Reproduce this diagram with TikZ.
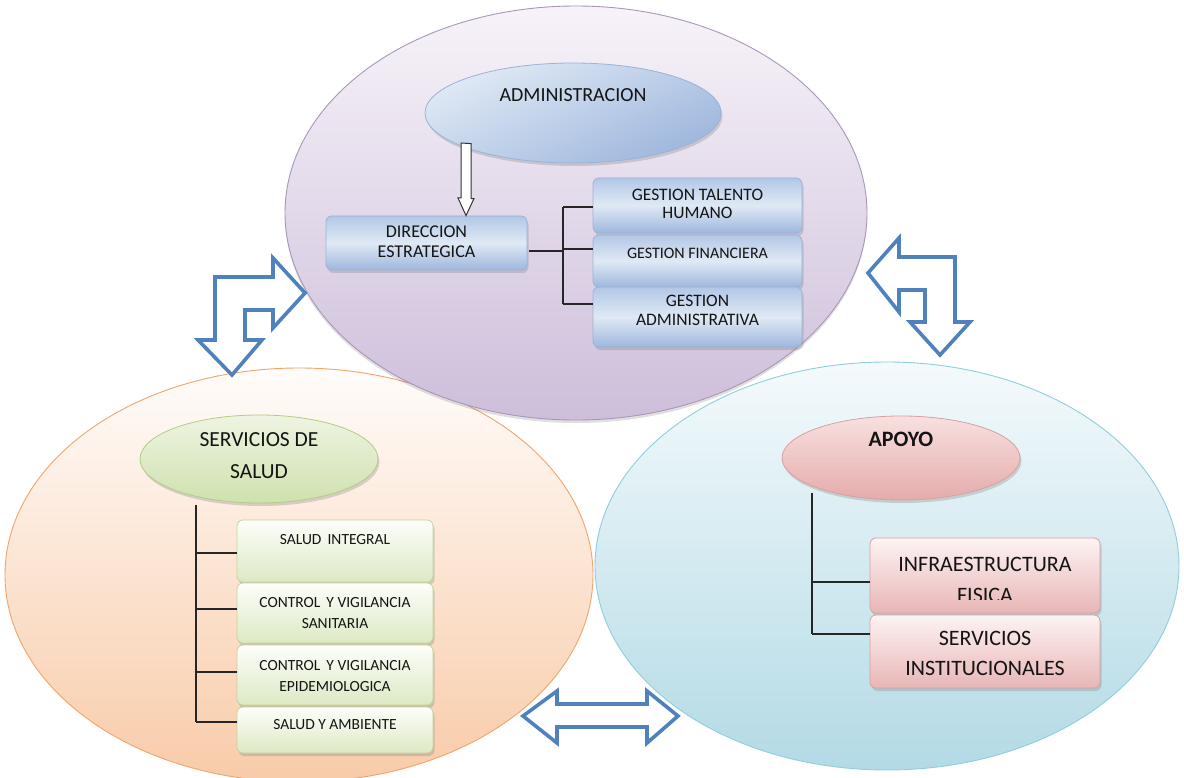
\documentclass[tikz,border=0pt]{standalone}
\usepackage{fontspec}
\setmainfont{Carlito}
\usetikzlibrary{shapes.geometric,shadows}
\definecolor{puTop}{HTML}{F7F3F9}
\definecolor{puBot}{HTML}{CDBEDA}
\definecolor{puLine}{HTML}{A897B8}
\definecolor{orTop}{HTML}{FFFCFA}
\definecolor{orBot}{HTML}{F8CBA8}
\definecolor{orLine}{HTML}{F2A46C}
\definecolor{blTop}{HTML}{F4FAFC}
\definecolor{blBot}{HTML}{B3DAE5}
\definecolor{blLine}{HTML}{8FCEDD}
\definecolor{bxTop}{HTML}{B2C7E6}
\definecolor{bxMid}{HTML}{E0E9F5}
\definecolor{bxBot}{HTML}{9EB7DD}
\definecolor{bxLine}{HTML}{9AB3D8}
\definecolor{grTop}{HTML}{FDFEFA}
\definecolor{grBot}{HTML}{DCE9C4}
\definecolor{grLine}{HTML}{C2D69B}
\definecolor{geTop}{HTML}{EEF4E2}
\definecolor{geBot}{HTML}{CFE1AE}
\definecolor{geLine}{HTML}{B3CC85}
\definecolor{pkTop}{HTML}{FDF3F3}
\definecolor{pkBot}{HTML}{E8B6B6}
\definecolor{pkLine}{HTML}{D9A0A0}
\definecolor{peTop}{HTML}{F8E0E0}
\definecolor{peBot}{HTML}{E5ABAB}
\definecolor{arBlue}{HTML}{4F81BD}
\definecolor{txt}{HTML}{141414}
\tikzset{
  bigell/.style={ellipse, inner sep=0pt, line width=0.9pt},
  smallell/.style={ellipse, inner sep=0pt, line width=0.8pt,
     drop shadow={shadow xshift=1.5pt, shadow yshift=-3pt, opacity=0.3}},
  boxbase/.style={rectangle, rounded corners=6pt, inner sep=0pt, line width=0.8pt,
     drop shadow={shadow xshift=1.5pt, shadow yshift=-3pt, opacity=0.3}},
  bluebox/.style={boxbase, draw=bxLine, top color=bxTop, bottom color=bxBot, middle color=bxMid},
  greenbox/.style={boxbase, draw=grLine, top color=grTop, bottom color=grBot},
  pinkbox/.style={boxbase, draw=pkLine, top color=pkTop, bottom color=pkBot},
  lbl/.style={text=txt, align=center, inner sep=0pt},
  tree/.style={line width=1.3pt, draw=black!85},
  blockarrow/.style={draw=arBlue, fill=white, line width=3.6pt, line join=miter},
  hollow/.style={draw=black!80, fill=white, line width=1pt}
}
\begin{document}
\begin{tikzpicture}[x=1pt,y=-1pt]
\useasboundingbox (0,0) rectangle (1184,778);
\clip (0,0) rectangle (1184,778);
\fill[white] (0,0) rectangle (1184,778);

% ---------- large ellipses ----------
\node[bigell, draw=orLine, top color=orTop, bottom color=orBot,
      minimum width=588pt, minimum height=414pt] (salud) at (299,575) {};
\node[bigell, draw=blLine, top color=blTop, bottom color=blBot,
      minimum width=584pt, minimum height=408pt] (apoyo) at (887,566) {};
\node[bigell, draw=puLine, top color=puTop, bottom color=puBot,
      drop shadow={shadow xshift=0pt, shadow yshift=-3pt, opacity=0.25},
      minimum width=582pt, minimum height=414pt] (admin) at (576,213) {};

% ---------- ADMINISTRACION group ----------
\node[smallell, draw=bxLine, top color=bxMid, bottom color=bxBot, shading angle=25,
      minimum width=296pt, minimum height=100pt] (admE) at (573,113) {};
\node[lbl, font=\fontsize{20}{22}\selectfont] (admT) at (573,95) {ADMINISTRACION};

\node[bluebox, minimum width=201pt, minimum height=54pt] (dir) at (426.5,243) {};
\node[lbl, font=\fontsize{18}{20}\selectfont] (dirT) at (426.5,242) {DIRECCION\\ESTRATEGICA};

\node[bluebox, minimum width=209pt, minimum height=55pt] (gth) at (697.5,205.5) {};
\node[lbl, font=\fontsize{17.5}{18}\selectfont] (gthT) at (697.5,204) {GESTION TALENTO\\HUMANO};
\node[bluebox, minimum width=209pt, minimum height=52pt] (gf) at (697.5,261) {};
\node[lbl, font=\fontsize{16}{17}\selectfont] (gfT) at (697.5,253) {GESTION FINANCIERA};
\node[bluebox, minimum width=209pt, minimum height=60pt] (ga) at (697.5,317) {};
\node[lbl, font=\fontsize{17.5}{19}\selectfont] (gaT) at (697.5,310) {GESTION\\ADMINISTRATIVA};

% hollow arrow from ADMINISTRACION to DIRECCION
\coordinate (ha1) at (466,143);
\draw[hollow] (ha1) ++(-5,0) -- ++(0,55) -- ++(-3,0) -- (dir.north -| ha1) -- ++(8,-17) -- ++(-3,0) -- ++(0,-55) -- cycle;

% tree top
\coordinate (busT) at (563,207);
\coordinate (busM) at (563,249);
\coordinate (busB) at (563,304);
\coordinate (busD) at (563,251);
\draw[tree] (busT) -- (busB);
\draw[tree] ([xshift=2pt]dir.east |- busD) -- (busD);
\draw[tree] (busT) -- (busT -| gth.west);
\draw[tree] (busM) -- (busM -| gf.west);
\draw[tree] (busB) -- (busB -| ga.west);

% ---------- SERVICIOS DE SALUD group ----------
\node[smallell, draw=geLine, top color=geTop, bottom color=geBot,
      minimum width=238pt, minimum height=88pt] (servE) at (259,459) {};
\node[lbl, font=\fontsize{21.5}{32}\selectfont] (servT) at (259,456) {SERVICIOS DE\\SALUD};

\node[greenbox, minimum width=196pt, minimum height=62pt] (si) at (335,551) {};
\node[lbl, font=\fontsize{15.5}{17}\selectfont] (siT) at (335,540) {SALUD\, INTEGRAL};
\node[greenbox, minimum width=196pt, minimum height=60pt] (cvs) at (335,613) {};
\node[lbl, font=\fontsize{15.5}{21}\selectfont] (cvsT) at (335,613) {CONTROL\, Y VIGILANCIA\\SANITARIA};
\node[greenbox, minimum width=196pt, minimum height=60pt] (cve) at (335,675) {};
\node[lbl, font=\fontsize{15.5}{21}\selectfont] (cveT) at (335,676) {CONTROL\, Y VIGILANCIA\\EPIDEMIOLOGICA};
\node[greenbox, minimum width=196pt, minimum height=46pt] (sya) at (335,730) {};
\node[lbl, font=\fontsize{15.5}{17}\selectfont] (syaT) at (335,725) {SALUD Y AMBIENTE};

\coordinate (lbT) at (196,505);
\coordinate (lb1) at (196,553);
\coordinate (lb2) at (196,609);
\coordinate (lb3) at (196,672);
\coordinate (lb4) at (196,722);
\draw[tree] (lbT) -- (lb4);
\draw[tree] (lb1) -- (lb1 -| si.west);
\draw[tree] (lb2) -- (lb2 -| cvs.west);
\draw[tree] (lb3) -- (lb3 -| cve.west);
\draw[tree] (lb4) -- (lb4 -| sya.west);

% ---------- APOYO group ----------
\node[smallell, draw=pkLine, top color=peTop, bottom color=peBot,
      minimum width=238pt, minimum height=84pt] (apE) at (901,458) {};
\node[lbl, font=\fontsize{22}{24}\selectfont\bfseries] (apT) at (901,439) {APOYO};

\node[pinkbox, minimum width=230pt, minimum height=75pt] (inf) at (985,575.5) {};
\begin{scope}
\clip (870,538) rectangle (1100,599);
\node[lbl, font=\fontsize{22}{31}\selectfont] (infT) at (985,580) {INFRAESTRUCTURA\\FISICA};
\end{scope}
\node[pinkbox, minimum width=230pt, minimum height=73pt] (ser) at (985,651.5) {};
\node[lbl, font=\fontsize{22}{30}\selectfont] (serT) at (985,653) {SERVICIOS\\INSTITUCIONALES};

\coordinate (rbT) at (812,493);
\coordinate (rb1) at (812,582);
\coordinate (rb2) at (812,634);
\draw[tree] (rbT) -- (rb2);
\draw[tree] (rb1) -- (rb1 -| inf.west);
\draw[tree] (rb2) -- (rb2 -| ser.west);

% ---------- block arrows ----------
\draw[blockarrow] (305,293) -- (273,258) -- (273,277) -- (215,277) -- (215,340)
   -- (198,340) -- (232,375) -- (262,340) -- (245,340) -- (245,310) -- (273,310)
   -- (273,328) -- cycle;
\draw[blockarrow] (868,273) -- (899,238) -- (899,257) -- (955,257) -- (955,322)
   -- (970,322) -- (940,355) -- (910,322) -- (925,322) -- (925,290) -- (899,290)
   -- (899,312) -- cycle;
\draw[blockarrow] (523,716) -- (557,691) -- (557,704) -- (647,704) -- (647,691)
   -- (678,716) -- (647,743) -- (647,727) -- (557,727) -- (557,743) -- cycle;
\end{tikzpicture}
\end{document}
